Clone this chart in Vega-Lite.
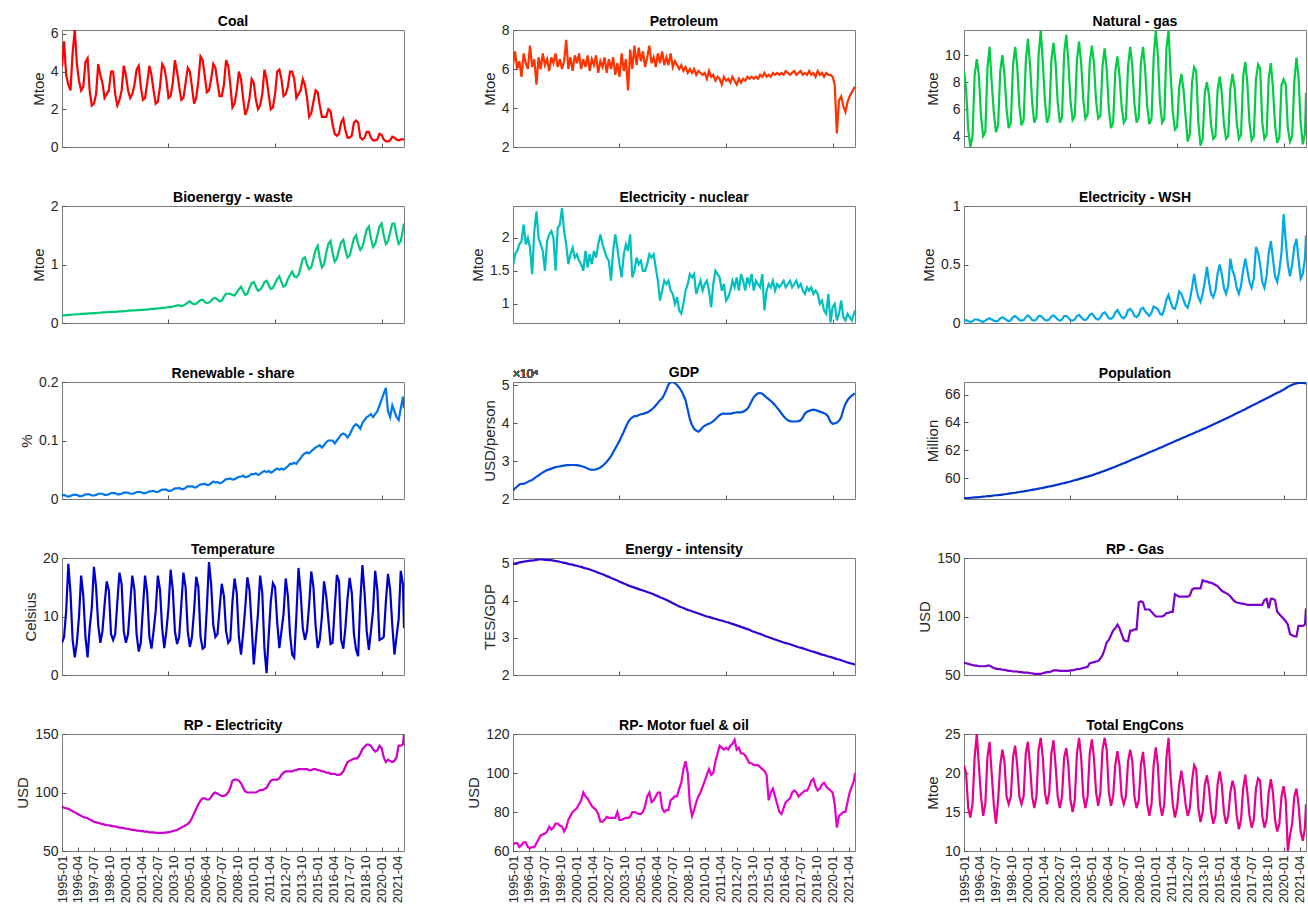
{
"$schema":"https://vega.github.io/schema/vega-lite/v6.json",
"background":"white",
"padding":{"left":15,"top":14,"right":0,"bottom":0},
"data":{"format":{"parse":{"d":"utc:'%Y-%m'"}},"values":[
{"d":"1995-01","co":4.3,"pe":6.2,"ng":8.8,"bi":0.13,"nu":1.57,"ws":0.02,"rs":0.006,"gd":2.22,"po":58.55,"te":5.5,"ei":5,"rg":60.5,"re":88,"rm":63.5,"tc":21},
{"d":"1995-03","co":5.6,"pe":6.9,"ng":7.5,"bi":0.13,"nu":1.75,"ws":0.025,"rs":0.007,"gd":2.28,"po":58.56,"te":6.5,"ei":5.01,"rg":60,"re":87,"rm":64,"tc":20},
{"d":"1995-05","co":3.8,"pe":6.0,"ng":4.5,"bi":0.135,"nu":1.8,"ws":0.015,"rs":0.005,"gd":2.33,"po":58.57,"te":11,"ei":5.02,"rg":59.5,"re":86.5,"rm":64,"tc":15.5},
{"d":"1995-07","co":3.3,"pe":6.4,"ng":3.2,"bi":0.14,"nu":1.9,"ws":0.01,"rs":0.004,"gd":2.38,"po":58.59,"te":19,"ei":5.04,"rg":59,"re":86,"rm":62,"tc":14.3},
{"d":"1995-09","co":3.0,"pe":5.6,"ng":4.0,"bi":0.14,"nu":1.95,"ws":0.015,"rs":0.005,"gd":2.4,"po":58.6,"te":14,"ei":5.05,"rg":58.5,"re":85,"rm":63,"tc":16},
{"d":"1995-11","co":5.0,"pe":6.8,"ng":8.5,"bi":0.145,"nu":2.2,"ws":0.03,"rs":0.007,"gd":2.4,"po":58.61,"te":6,"ei":5.06,"rg":58,"re":84,"rm":64.5,"tc":22},
{"d":"1996-01","co":6.2,"pe":6.3,"ng":9.7,"bi":0.145,"nu":1.9,"ws":0.03,"rs":0.007,"gd":2.42,"po":58.62,"te":3,"ei":5.07,"rg":58,"re":83,"rm":64.5,"tc":25},
{"d":"1996-03","co":4.4,"pe":6.0,"ng":8.5,"bi":0.15,"nu":2.0,"ws":0.025,"rs":0.007,"gd":2.45,"po":58.64,"te":5.5,"ei":5.08,"rg":57.5,"re":82,"rm":62,"tc":21},
{"d":"1996-05","co":3.5,"pe":7.2,"ng":5.5,"bi":0.15,"nu":1.85,"ws":0.015,"rs":0.005,"gd":2.48,"po":58.65,"te":10,"ei":5.09,"rg":57.5,"re":81,"rm":61.5,"tc":17},
{"d":"1996-07","co":3.0,"pe":6.1,"ng":4.0,"bi":0.155,"nu":1.45,"ws":0.01,"rs":0.005,"gd":2.5,"po":58.67,"te":17,"ei":5.09,"rg":57.5,"re":80,"rm":62,"tc":14.5},
{"d":"1996-09","co":3.2,"pe":6.5,"ng":4.3,"bi":0.155,"nu":2.1,"ws":0.02,"rs":0.006,"gd":2.54,"po":58.68,"te":13.5,"ei":5.1,"rg":57.5,"re":79,"rm":62,"tc":16},
{"d":"1996-11","co":4.5,"pe":5.2,"ng":9.0,"bi":0.16,"nu":2.4,"ws":0.035,"rs":0.008,"gd":2.59,"po":58.7,"te":6.5,"ei":5.11,"rg":58,"re":78.5,"rm":64,"tc":22},
{"d":"1997-01","co":4.7,"pe":6.6,"ng":10.6,"bi":0.16,"nu":2.0,"ws":0.04,"rs":0.008,"gd":2.62,"po":58.71,"te":3,"ei":5.12,"rg":58,"re":78,"rm":66,"tc":24},
{"d":"1997-03","co":3.0,"pe":6.0,"ng":8.0,"bi":0.165,"nu":1.9,"ws":0.03,"rs":0.008,"gd":2.66,"po":58.73,"te":8,"ei":5.12,"rg":57,"re":77,"rm":68,"tc":20},
{"d":"1997-05","co":2.2,"pe":6.8,"ng":5.8,"bi":0.165,"nu":1.8,"ws":0.02,"rs":0.006,"gd":2.7,"po":58.75,"te":11.5,"ei":5.12,"rg":56,"re":76,"rm":68.5,"tc":16},
{"d":"1997-07","co":2.3,"pe":6.2,"ng":4.3,"bi":0.17,"nu":1.5,"ws":0.015,"rs":0.006,"gd":2.73,"po":58.77,"te":18.5,"ei":5.11,"rg":55.5,"re":75,"rm":69,"tc":13.5},
{"d":"1997-09","co":2.8,"pe":6.5,"ng":4.8,"bi":0.17,"nu":1.95,"ws":0.02,"rs":0.007,"gd":2.76,"po":58.78,"te":15,"ei":5.11,"rg":55,"re":74.5,"rm":70,"tc":16.5},
{"d":"1997-11","co":4.4,"pe":5.9,"ng":8.8,"bi":0.175,"nu":2.05,"ws":0.04,"rs":0.009,"gd":2.78,"po":58.8,"te":8.5,"ei":5.1,"rg":55,"re":74,"rm":72.5,"tc":21},
{"d":"1998-01","co":3.8,"pe":6.6,"ng":10.0,"bi":0.175,"nu":2.1,"ws":0.05,"rs":0.009,"gd":2.8,"po":58.82,"te":5.5,"ei":5.1,"rg":54.5,"re":73.5,"rm":71,"tc":23},
{"d":"1998-03","co":3.4,"pe":6.3,"ng":8.6,"bi":0.18,"nu":2.0,"ws":0.04,"rs":0.009,"gd":2.82,"po":58.84,"te":7.5,"ei":5.09,"rg":54.5,"re":73,"rm":72,"tc":21.5},
{"d":"1998-05","co":2.6,"pe":6.8,"ng":6.0,"bi":0.18,"nu":1.5,"ws":0.025,"rs":0.007,"gd":2.84,"po":58.86,"te":12,"ei":5.08,"rg":54,"re":72.5,"rm":74,"tc":17},
{"d":"1998-07","co":2.8,"pe":6.1,"ng":4.6,"bi":0.185,"nu":2.15,"ws":0.015,"rs":0.007,"gd":2.85,"po":58.89,"te":16,"ei":5.07,"rg":53.5,"re":72,"rm":74,"tc":16},
{"d":"1998-09","co":3.0,"pe":6.5,"ng":5.0,"bi":0.185,"nu":2.2,"ws":0.025,"rs":0.008,"gd":2.86,"po":58.91,"te":14.5,"ei":5.06,"rg":53.5,"re":72,"rm":73,"tc":17},
{"d":"1998-11","co":4.0,"pe":6.0,"ng":9.2,"bi":0.19,"nu":2.45,"ws":0.05,"rs":0.01,"gd":2.87,"po":58.93,"te":7,"ei":5.04,"rg":53,"re":71.5,"rm":72.5,"tc":22},
{"d":"1999-01","co":4.0,"pe":6.4,"ng":10.6,"bi":0.19,"nu":2.1,"ws":0.06,"rs":0.01,"gd":2.88,"po":58.95,"te":6,"ei":5.03,"rg":53,"re":71,"rm":70,"tc":23.5},
{"d":"1999-03","co":2.8,"pe":7.5,"ng":9.2,"bi":0.19,"nu":1.9,"ws":0.045,"rs":0.01,"gd":2.89,"po":58.98,"te":7,"ei":5.02,"rg":53,"re":71,"rm":72,"tc":21},
{"d":"1999-05","co":2.2,"pe":6.0,"ng":6.2,"bi":0.195,"nu":1.6,"ws":0.025,"rs":0.008,"gd":2.89,"po":59.0,"te":12.5,"ei":5.0,"rg":52.5,"re":70.5,"rm":76,"tc":17},
{"d":"1999-07","co":2.5,"pe":6.6,"ng":4.8,"bi":0.2,"nu":1.75,"ws":0.02,"rs":0.008,"gd":2.895,"po":59.03,"te":17.5,"ei":4.99,"rg":52.5,"re":70,"rm":78,"tc":16},
{"d":"1999-09","co":3.0,"pe":5.9,"ng":5.2,"bi":0.2,"nu":1.85,"ws":0.025,"rs":0.009,"gd":2.895,"po":59.05,"te":15.5,"ei":4.98,"rg":52,"re":70,"rm":80,"tc":17},
{"d":"1999-11","co":4.3,"pe":6.7,"ng":9.5,"bi":0.2,"nu":1.7,"ws":0.05,"rs":0.011,"gd":2.89,"po":59.08,"te":7.5,"ei":4.96,"rg":52,"re":69.5,"rm":81,"tc":22.5},
{"d":"2000-01","co":3.8,"pe":6.3,"ng":11.2,"bi":0.205,"nu":1.75,"ws":0.065,"rs":0.011,"gd":2.89,"po":59.1,"te":5.5,"ei":4.95,"rg":52,"re":69,"rm":82,"tc":24},
{"d":"2000-03","co":3.0,"pe":6.8,"ng":9.3,"bi":0.21,"nu":1.65,"ws":0.05,"rs":0.011,"gd":2.88,"po":59.13,"te":7,"ei":4.93,"rg":51.5,"re":69,"rm":84,"tc":21},
{"d":"2000-05","co":2.6,"pe":6.0,"ng":6.5,"bi":0.21,"nu":1.6,"ws":0.025,"rs":0.009,"gd":2.87,"po":59.16,"te":12,"ei":4.92,"rg":51.5,"re":68.5,"rm":86,"tc":17},
{"d":"2000-07","co":2.8,"pe":6.5,"ng":5.0,"bi":0.215,"nu":1.5,"ws":0.02,"rs":0.009,"gd":2.85,"po":59.19,"te":17,"ei":4.9,"rg":51,"re":68,"rm":90,"tc":15.5},
{"d":"2000-09","co":3.3,"pe":6.1,"ng":5.4,"bi":0.215,"nu":1.8,"ws":0.03,"rs":0.01,"gd":2.83,"po":59.21,"te":14.5,"ei":4.88,"rg":51,"re":68,"rm":88,"tc":17},
{"d":"2000-11","co":4.1,"pe":6.7,"ng":10.0,"bi":0.22,"nu":1.55,"ws":0.06,"rs":0.012,"gd":2.8,"po":59.24,"te":7,"ei":4.87,"rg":51,"re":67.5,"rm":87,"tc":23},
{"d":"2001-01","co":4.3,"pe":5.9,"ng":11.8,"bi":0.22,"nu":1.75,"ws":0.06,"rs":0.012,"gd":2.78,"po":59.27,"te":4,"ei":4.85,"rg":51,"re":67.5,"rm":85,"tc":24.5},
{"d":"2001-03","co":3.2,"pe":6.5,"ng":9.5,"bi":0.225,"nu":1.6,"ws":0.045,"rs":0.012,"gd":2.77,"po":59.3,"te":5.5,"ei":4.83,"rg":51.5,"re":67,"rm":83,"tc":22},
{"d":"2001-05","co":2.5,"pe":6.2,"ng":6.6,"bi":0.225,"nu":1.8,"ws":0.025,"rs":0.01,"gd":2.77,"po":59.33,"te":11.5,"ei":4.81,"rg":52,"re":67,"rm":82,"tc":17.5},
{"d":"2001-07","co":2.6,"pe":6.7,"ng":5.0,"bi":0.23,"nu":1.7,"ws":0.02,"rs":0.01,"gd":2.78,"po":59.37,"te":17,"ei":4.79,"rg":52.5,"re":66.5,"rm":81,"tc":16},
{"d":"2001-09","co":3.4,"pe":5.8,"ng":5.5,"bi":0.23,"nu":1.9,"ws":0.03,"rs":0.011,"gd":2.8,"po":59.4,"te":14,"ei":4.76,"rg":52.5,"re":66.5,"rm":79,"tc":17.5},
{"d":"2001-11","co":4.3,"pe":6.4,"ng":9.6,"bi":0.235,"nu":2.05,"ws":0.055,"rs":0.013,"gd":2.83,"po":59.43,"te":6.5,"ei":4.74,"rg":53,"re":66,"rm":75,"tc":22.5},
{"d":"2002-01","co":3.8,"pe":6.1,"ng":10.9,"bi":0.24,"nu":1.9,"ws":0.065,"rs":0.013,"gd":2.87,"po":59.46,"te":4.5,"ei":4.72,"rg":54,"re":66,"rm":75,"tc":24.2},
{"d":"2002-03","co":3.0,"pe":6.6,"ng":9.4,"bi":0.24,"nu":1.8,"ws":0.05,"rs":0.014,"gd":2.92,"po":59.5,"te":7.5,"ei":4.7,"rg":54,"re":66,"rm":76,"tc":21},
{"d":"2002-05","co":2.3,"pe":5.8,"ng":6.5,"bi":0.245,"nu":1.7,"ws":0.03,"rs":0.012,"gd":2.98,"po":59.53,"te":11,"ei":4.67,"rg":54,"re":65.5,"rm":77.5,"tc":17},
{"d":"2002-07","co":2.4,"pe":6.5,"ng":5.0,"bi":0.25,"nu":1.65,"ws":0.02,"rs":0.012,"gd":3.05,"po":59.57,"te":17,"ei":4.65,"rg":53.5,"re":65.5,"rm":77,"tc":15.5},
{"d":"2002-09","co":3.2,"pe":6.0,"ng":5.4,"bi":0.25,"nu":1.35,"ws":0.03,"rs":0.014,"gd":3.13,"po":59.61,"te":14.5,"ei":4.62,"rg":53.5,"re":65.5,"rm":77,"tc":17},
{"d":"2002-11","co":4.4,"pe":6.6,"ng":10.1,"bi":0.26,"nu":1.8,"ws":0.06,"rs":0.016,"gd":3.23,"po":59.64,"te":8,"ei":4.6,"rg":53.5,"re":65.5,"rm":77,"tc":22},
{"d":"2003-01","co":4.2,"pe":5.7,"ng":11.5,"bi":0.26,"nu":2.05,"ws":0.06,"rs":0.016,"gd":3.33,"po":59.68,"te":4.6,"ei":4.57,"rg":53.5,"re":65.5,"rm":77,"tc":23.2},
{"d":"2003-03","co":3.6,"pe":6.3,"ng":9.5,"bi":0.265,"nu":1.85,"ws":0.045,"rs":0.016,"gd":3.43,"po":59.72,"te":7.5,"ei":4.55,"rg":53.5,"re":66,"rm":80,"tc":21},
{"d":"2003-05","co":2.6,"pe":5.6,"ng":6.6,"bi":0.27,"nu":1.6,"ws":0.025,"rs":0.014,"gd":3.53,"po":59.76,"te":11.5,"ei":4.52,"rg":54,"re":66,"rm":76,"tc":16.5},
{"d":"2003-07","co":2.7,"pe":6.8,"ng":5.2,"bi":0.27,"nu":1.4,"ws":0.02,"rs":0.014,"gd":3.65,"po":59.81,"te":18,"ei":4.5,"rg":54,"re":66.5,"rm":76,"tc":15},
{"d":"2003-09","co":3.4,"pe":5.9,"ng":5.5,"bi":0.28,"nu":1.75,"ws":0.03,"rs":0.016,"gd":3.77,"po":59.85,"te":14.5,"ei":4.47,"rg":54.5,"re":67,"rm":76.5,"tc":16.5},
{"d":"2003-11","co":4.6,"pe":6.5,"ng":9.6,"bi":0.29,"nu":1.9,"ws":0.06,"rs":0.018,"gd":3.9,"po":59.89,"te":7.5,"ei":4.45,"rg":55,"re":67.5,"rm":77,"tc":22.5},
{"d":"2004-01","co":4.0,"pe":4.9,"ng":11.0,"bi":0.3,"nu":1.8,"ws":0.07,"rs":0.018,"gd":4.02,"po":59.93,"te":5.3,"ei":4.42,"rg":55,"re":68,"rm":77,"tc":24.5},
{"d":"2004-03","co":3.2,"pe":7.0,"ng":9.4,"bi":0.3,"nu":2.05,"ws":0.05,"rs":0.019,"gd":4.1,"po":59.98,"te":6.5,"ei":4.4,"rg":55.5,"re":69,"rm":77.5,"tc":22},
{"d":"2004-05","co":2.5,"pe":6.0,"ng":6.7,"bi":0.29,"nu":1.4,"ws":0.03,"rs":0.017,"gd":4.15,"po":60.02,"te":12,"ei":4.38,"rg":56,"re":70,"rm":80,"tc":17},
{"d":"2004-07","co":2.6,"pe":7.2,"ng":5.3,"bi":0.3,"nu":1.5,"ws":0.025,"rs":0.017,"gd":4.18,"po":60.07,"te":17.5,"ei":4.36,"rg":56.5,"re":71,"rm":80,"tc":15.5},
{"d":"2004-09","co":3.4,"pe":6.2,"ng":5.6,"bi":0.32,"nu":1.7,"ws":0.04,"rs":0.019,"gd":4.18,"po":60.11,"te":15,"ei":4.34,"rg":57,"re":72,"rm":79.5,"tc":17},
{"d":"2004-11","co":4.2,"pe":7.1,"ng":9.4,"bi":0.35,"nu":1.6,"ws":0.07,"rs":0.022,"gd":4.21,"po":60.16,"te":7.5,"ei":4.32,"rg":60,"re":73,"rm":79,"tc":22.5},
{"d":"2005-01","co":4.0,"pe":6.4,"ng":10.7,"bi":0.37,"nu":1.65,"ws":0.08,"rs":0.021,"gd":4.23,"po":60.2,"te":4.8,"ei":4.3,"rg":60.5,"re":75,"rm":79,"tc":24.3},
{"d":"2005-03","co":3.2,"pe":6.9,"ng":9.4,"bi":0.34,"nu":1.5,"ws":0.06,"rs":0.022,"gd":4.24,"po":60.25,"te":6.5,"ei":4.28,"rg":61,"re":78,"rm":80,"tc":22},
{"d":"2005-05","co":2.3,"pe":6.1,"ng":6.6,"bi":0.32,"nu":1.5,"ws":0.035,"rs":0.02,"gd":4.26,"po":60.31,"te":11,"ei":4.26,"rg":61.5,"re":82,"rm":83,"tc":17.5},
{"d":"2005-07","co":2.6,"pe":6.6,"ng":5.3,"bi":0.33,"nu":1.6,"ws":0.03,"rs":0.02,"gd":4.28,"po":60.36,"te":16.8,"ei":4.24,"rg":62,"re":86,"rm":88,"tc":15.8},
{"d":"2005-09","co":3.5,"pe":7.2,"ng":5.5,"bi":0.36,"nu":1.75,"ws":0.045,"rs":0.023,"gd":4.31,"po":60.41,"te":15,"ei":4.22,"rg":64,"re":90,"rm":90,"tc":17.5},
{"d":"2005-11","co":4.8,"pe":6.3,"ng":9.2,"bi":0.39,"nu":1.7,"ws":0.08,"rs":0.025,"gd":4.35,"po":60.47,"te":6.5,"ei":4.2,"rg":67,"re":93,"rm":85,"tc":23},
{"d":"2006-01","co":4.6,"pe":6.6,"ng":10.5,"bi":0.4,"nu":1.75,"ws":0.09,"rs":0.025,"gd":4.4,"po":60.52,"te":4.5,"ei":4.18,"rg":72,"re":95,"rm":86,"tc":24.5},
{"d":"2006-03","co":3.8,"pe":6.1,"ng":9.0,"bi":0.36,"nu":1.55,"ws":0.07,"rs":0.026,"gd":4.46,"po":60.58,"te":4.8,"ei":4.15,"rg":78,"re":95,"rm":88,"tc":23},
{"d":"2006-05","co":2.9,"pe":6.8,"ng":6.0,"bi":0.34,"nu":1.35,"ws":0.04,"rs":0.024,"gd":4.53,"po":60.64,"te":11.5,"ei":4.13,"rg":80,"re":94,"rm":90,"tc":17.5},
{"d":"2006-07","co":3.0,"pe":6.3,"ng":4.6,"bi":0.35,"nu":1.05,"ws":0.035,"rs":0.024,"gd":4.6,"po":60.7,"te":19.3,"ei":4.1,"rg":84,"re":94,"rm":90,"tc":15.8},
{"d":"2006-09","co":3.6,"pe":6.9,"ng":5.0,"bi":0.38,"nu":1.2,"ws":0.05,"rs":0.027,"gd":4.65,"po":60.76,"te":15.5,"ei":4.08,"rg":88,"re":96,"rm":82,"tc":17},
{"d":"2006-11","co":4.4,"pe":6.2,"ng":8.8,"bi":0.42,"nu":1.35,"ws":0.09,"rs":0.03,"gd":4.75,"po":60.82,"te":8.5,"ei":4.05,"rg":90,"re":99,"rm":80,"tc":21},
{"d":"2007-01","co":4.2,"pe":6.6,"ng":9.9,"bi":0.43,"nu":1.3,"ws":0.11,"rs":0.028,"gd":4.88,"po":60.88,"te":6.5,"ei":4.03,"rg":93,"re":100,"rm":81,"tc":22.8},
{"d":"2007-03","co":3.4,"pe":6.2,"ng":8.5,"bi":0.4,"nu":1.35,"ws":0.08,"rs":0.029,"gd":5.02,"po":60.94,"te":7,"ei":4.0,"rg":90,"re":99,"rm":81,"tc":21},
{"d":"2007-05","co":2.7,"pe":6.8,"ng":6.2,"bi":0.37,"nu":1.2,"ws":0.05,"rs":0.027,"gd":5.07,"po":61.01,"te":11.5,"ei":3.97,"rg":85,"re":98,"rm":86,"tc":17},
{"d":"2007-07","co":2.7,"pe":6.1,"ng":5.0,"bi":0.38,"nu":1.15,"ws":0.04,"rs":0.028,"gd":5.08,"po":61.07,"te":15.6,"ei":3.94,"rg":80,"re":97,"rm":87,"tc":16},
{"d":"2007-09","co":3.3,"pe":6.4,"ng":5.3,"bi":0.45,"nu":1.0,"ws":0.06,"rs":0.031,"gd":5.05,"po":61.13,"te":13.5,"ei":3.91,"rg":79,"re":97,"rm":88,"tc":17},
{"d":"2007-11","co":4.6,"pe":6.2,"ng":9.2,"bi":0.5,"nu":1.1,"ws":0.11,"rs":0.034,"gd":5.0,"po":61.2,"te":7.5,"ei":3.88,"rg":79,"re":98,"rm":88,"tc":21.5},
{"d":"2008-01","co":4.3,"pe":6.0,"ng":10.6,"bi":0.5,"nu":0.9,"ws":0.12,"rs":0.034,"gd":4.93,"po":61.26,"te":5.5,"ei":3.85,"rg":88,"re":100,"rm":92,"tc":23},
{"d":"2008-03","co":3.3,"pe":6.2,"ng":9.2,"bi":0.5,"nu":0.85,"ws":0.1,"rs":0.035,"gd":4.85,"po":61.33,"te":6,"ei":3.83,"rg":88,"re":104,"rm":95,"tc":21.5},
{"d":"2008-05","co":2.1,"pe":5.9,"ng":6.4,"bi":0.48,"nu":1.0,"ws":0.06,"rs":0.033,"gd":4.73,"po":61.39,"te":12.5,"ei":3.81,"rg":89,"re":110,"rm":102,"tc":17},
{"d":"2008-07","co":2.3,"pe":6.1,"ng":5.0,"bi":0.47,"nu":1.2,"ws":0.05,"rs":0.034,"gd":4.6,"po":61.46,"te":16.5,"ei":3.78,"rg":89,"re":111,"rm":106,"tc":15.5},
{"d":"2008-09","co":3.0,"pe":5.8,"ng":5.4,"bi":0.52,"nu":1.3,"ws":0.07,"rs":0.036,"gd":4.35,"po":61.52,"te":14,"ei":3.76,"rg":112,"re":111,"rm":100,"tc":16.5},
{"d":"2008-11","co":4.0,"pe":6.0,"ng":9.4,"bi":0.58,"nu":1.45,"ws":0.12,"rs":0.038,"gd":4.1,"po":61.59,"te":6.5,"ei":3.74,"rg":113,"re":110,"rm":84,"tc":21},
{"d":"2009-01","co":3.6,"pe":5.8,"ng":10.6,"bi":0.62,"nu":1.4,"ws":0.13,"rs":0.038,"gd":3.95,"po":61.65,"te":3.5,"ei":3.72,"rg":112,"re":108,"rm":78,"tc":22.7},
{"d":"2009-03","co":2.6,"pe":6.0,"ng":9.0,"bi":0.55,"nu":1.45,"ws":0.1,"rs":0.04,"gd":3.85,"po":61.72,"te":7,"ei":3.7,"rg":106,"re":104,"rm":81,"tc":20},
{"d":"2009-05","co":1.7,"pe":5.7,"ng":6.2,"bi":0.48,"nu":1.15,"ws":0.08,"rs":0.037,"gd":3.8,"po":61.78,"te":11.5,"ei":3.68,"rg":106,"re":101,"rm":85,"tc":16},
{"d":"2009-07","co":2.0,"pe":5.9,"ng":4.9,"bi":0.5,"nu":1.25,"ws":0.06,"rs":0.038,"gd":3.77,"po":61.85,"te":16.7,"ei":3.66,"rg":106,"re":100,"rm":88,"tc":14.5},
{"d":"2009-09","co":2.6,"pe":5.8,"ng":5.3,"bi":0.6,"nu":1.35,"ws":0.09,"rs":0.04,"gd":3.82,"po":61.91,"te":14.5,"ei":3.64,"rg":104,"re":100,"rm":90,"tc":16},
{"d":"2009-11","co":3.6,"pe":5.7,"ng":9.8,"bi":0.68,"nu":1.2,"ws":0.14,"rs":0.043,"gd":3.89,"po":61.98,"te":8.5,"ei":3.62,"rg":102,"re":100,"rm":93,"tc":21},
{"d":"2010-01","co":3.4,"pe":5.8,"ng":11.8,"bi":0.7,"nu":1.3,"ws":0.13,"rs":0.042,"gd":3.93,"po":62.04,"te":1.8,"ei":3.6,"rg":100,"re":100,"rm":96,"tc":23.3},
{"d":"2010-03","co":2.5,"pe":5.5,"ng":10.0,"bi":0.62,"nu":1.35,"ws":0.12,"rs":0.044,"gd":3.96,"po":62.11,"te":6,"ei":3.58,"rg":100,"re":100,"rm":99,"tc":21},
{"d":"2010-05","co":2.0,"pe":5.9,"ng":6.5,"bi":0.55,"nu":1.2,"ws":0.08,"rs":0.041,"gd":3.98,"po":62.17,"te":10.5,"ei":3.57,"rg":100,"re":101,"rm":102,"tc":16},
{"d":"2010-07","co":2.2,"pe":5.6,"ng":5.0,"bi":0.57,"nu":0.95,"ws":0.07,"rs":0.043,"gd":4.01,"po":62.24,"te":17,"ei":3.55,"rg":100,"re":102,"rm":99,"tc":14.5},
{"d":"2010-09","co":2.8,"pe":5.7,"ng":5.3,"bi":0.62,"nu":1.3,"ws":0.12,"rs":0.046,"gd":4.05,"po":62.31,"te":14,"ei":3.53,"rg":101,"re":102,"rm":100,"tc":16},
{"d":"2010-11","co":4.1,"pe":5.4,"ng":10.5,"bi":0.7,"nu":1.5,"ws":0.2,"rs":0.048,"gd":4.1,"po":62.37,"te":4.5,"ei":3.52,"rg":103,"re":103,"rm":106,"tc":22},
{"d":"2011-01","co":3.6,"pe":5.6,"ng":11.8,"bi":0.72,"nu":1.45,"ws":0.24,"rs":0.046,"gd":4.16,"po":62.44,"te":0.3,"ei":3.5,"rg":103,"re":104,"rm":110,"tc":24.5},
{"d":"2011-03","co":2.8,"pe":5.5,"ng":8.6,"bi":0.65,"nu":1.4,"ws":0.18,"rs":0.048,"gd":4.21,"po":62.51,"te":6.5,"ei":3.48,"rg":104,"re":107,"rm":114,"tc":19.5},
{"d":"2011-05","co":2.0,"pe":5.2,"ng":5.8,"bi":0.58,"nu":1.2,"ws":0.13,"rs":0.045,"gd":4.24,"po":62.57,"te":12.5,"ei":3.47,"rg":104,"re":110,"rm":113,"tc":16},
{"d":"2011-07","co":2.1,"pe":5.6,"ng":4.5,"bi":0.6,"nu":1.3,"ws":0.12,"rs":0.047,"gd":4.25,"po":62.64,"te":15.7,"ei":3.45,"rg":119,"re":111,"rm":112,"tc":14.3},
{"d":"2011-09","co":2.8,"pe":5.4,"ng":4.7,"bi":0.68,"nu":1.05,"ws":0.18,"rs":0.05,"gd":4.24,"po":62.71,"te":15,"ei":3.43,"rg":118,"re":111,"rm":113,"tc":15.5},
{"d":"2011-11","co":4.0,"pe":5.5,"ng":7.6,"bi":0.75,"nu":1.1,"ws":0.27,"rs":0.052,"gd":4.25,"po":62.77,"te":9,"ei":3.42,"rg":117,"re":111,"rm":112,"tc":18.5},
{"d":"2012-01","co":4.1,"pe":5.3,"ng":8.6,"bi":0.8,"nu":1.2,"ws":0.25,"rs":0.05,"gd":4.24,"po":62.84,"te":4.6,"ei":3.4,"rg":117,"re":112,"rm":114,"tc":20.3},
{"d":"2012-03","co":3.6,"pe":5.6,"ng":7.5,"bi":0.7,"nu":1.35,"ws":0.2,"rs":0.052,"gd":4.26,"po":62.91,"te":7.5,"ei":3.38,"rg":117,"re":115,"rm":115,"tc":18.5},
{"d":"2012-05","co":2.7,"pe":5.4,"ng":5.5,"bi":0.62,"nu":1.25,"ws":0.15,"rs":0.05,"gd":4.27,"po":62.97,"te":10.5,"ei":3.36,"rg":117,"re":117,"rm":117,"tc":16},
{"d":"2012-07","co":2.8,"pe":5.2,"ng":3.6,"bi":0.65,"nu":1.4,"ws":0.13,"rs":0.053,"gd":4.28,"po":63.04,"te":16.5,"ei":3.34,"rg":117,"re":118,"rm":112,"tc":14.5},
{"d":"2012-09","co":3.2,"pe":5.5,"ng":4.2,"bi":0.75,"nu":1.2,"ws":0.2,"rs":0.056,"gd":4.28,"po":63.11,"te":13.5,"ei":3.32,"rg":118,"re":118,"rm":113,"tc":15.5},
{"d":"2012-11","co":4.0,"pe":5.3,"ng":8.0,"bi":0.82,"nu":1.45,"ws":0.3,"rs":0.06,"gd":4.28,"po":63.17,"te":7,"ei":3.3,"rg":123,"re":118,"rm":110,"tc":19},
{"d":"2013-01","co":4.0,"pe":5.5,"ng":9.1,"bi":0.88,"nu":1.35,"ws":0.42,"rs":0.06,"gd":4.3,"po":63.24,"te":3.5,"ei":3.28,"rg":124,"re":118,"rm":110,"tc":21},
{"d":"2013-03","co":3.6,"pe":5.4,"ng":8.8,"bi":0.8,"nu":1.2,"ws":0.3,"rs":0.062,"gd":4.33,"po":63.31,"te":3,"ei":3.26,"rg":124,"re":119,"rm":109,"tc":20.5},
{"d":"2013-05","co":2.6,"pe":5.6,"ng":5.0,"bi":0.78,"nu":1.4,"ws":0.22,"rs":0.06,"gd":4.37,"po":63.37,"te":10,"ei":3.24,"rg":124,"re":119,"rm":107,"tc":15.5},
{"d":"2013-07","co":2.8,"pe":5.5,"ng":3.3,"bi":0.82,"nu":1.3,"ws":0.18,"rs":0.065,"gd":4.46,"po":63.44,"te":18.3,"ei":3.22,"rg":124,"re":120,"rm":105,"tc":13.7},
{"d":"2013-09","co":3.0,"pe":5.6,"ng":3.8,"bi":0.95,"nu":1.45,"ws":0.25,"rs":0.07,"gd":4.58,"po":63.51,"te":14,"ei":3.19,"rg":131,"re":120,"rm":105,"tc":15},
{"d":"2013-11","co":3.6,"pe":5.5,"ng":7.2,"bi":1.1,"nu":1.2,"ws":0.35,"rs":0.075,"gd":4.68,"po":63.57,"te":8,"ei":3.17,"rg":130,"re":120,"rm":104,"tc":18.5},
{"d":"2014-01","co":3.3,"pe":5.6,"ng":8.0,"bi":1.12,"nu":1.35,"ws":0.48,"rs":0.078,"gd":4.74,"po":63.64,"te":6,"ei":3.15,"rg":130,"re":120,"rm":104,"tc":19.7},
{"d":"2014-03","co":2.6,"pe":5.5,"ng":7.0,"bi":1.0,"nu":1.3,"ws":0.35,"rs":0.08,"gd":4.78,"po":63.71,"te":7.5,"ei":3.13,"rg":129,"re":120,"rm":104,"tc":18},
{"d":"2014-05","co":1.6,"pe":5.7,"ng":4.8,"bi":0.92,"nu":1.25,"ws":0.25,"rs":0.078,"gd":4.79,"po":63.78,"te":12,"ei":3.11,"rg":129,"re":119,"rm":103,"tc":15},
{"d":"2014-07","co":1.8,"pe":5.6,"ng":3.8,"bi":0.95,"nu":1.45,"ws":0.22,"rs":0.082,"gd":4.77,"po":63.85,"te":17.7,"ei":3.09,"rg":128,"re":119,"rm":102,"tc":13.5},
{"d":"2014-09","co":2.4,"pe":5.8,"ng":4.0,"bi":1.1,"nu":0.9,"ws":0.28,"rs":0.085,"gd":4.72,"po":63.92,"te":15,"ei":3.06,"rg":127,"re":120,"rm":101,"tc":14.5},
{"d":"2014-11","co":3.0,"pe":5.6,"ng":7.4,"bi":1.25,"nu":1.2,"ws":0.42,"rs":0.088,"gd":4.67,"po":63.99,"te":8.5,"ei":3.04,"rg":126,"re":120,"rm":99,"tc":18.5},
{"d":"2015-01","co":2.9,"pe":5.7,"ng":8.4,"bi":1.32,"nu":1.3,"ws":0.5,"rs":0.09,"gd":4.63,"po":64.06,"te":4.6,"ei":3.02,"rg":124,"re":119,"rm":86,"tc":20.2},
{"d":"2015-03","co":2.2,"pe":5.6,"ng":7.2,"bi":1.1,"nu":1.25,"ws":0.42,"rs":0.092,"gd":4.58,"po":64.13,"te":6,"ei":3.0,"rg":122,"re":119,"rm":90,"tc":18.5},
{"d":"2015-05","co":1.6,"pe":5.8,"ng":4.9,"bi":0.95,"nu":1.35,"ws":0.3,"rs":0.088,"gd":4.53,"po":64.21,"te":10,"ei":2.98,"rg":121,"re":118,"rm":92,"tc":15},
{"d":"2015-07","co":1.6,"pe":5.7,"ng":3.8,"bi":1.0,"nu":1.2,"ws":0.25,"rs":0.092,"gd":4.47,"po":64.28,"te":16,"ei":2.96,"rg":120,"re":118,"rm":88,"tc":13.5},
{"d":"2015-09","co":1.6,"pe":5.8,"ng":4.0,"bi":1.2,"nu":1.3,"ws":0.32,"rs":0.097,"gd":4.4,"po":64.35,"te":13.5,"ei":2.94,"rg":119,"re":117,"rm":84,"tc":14.5},
{"d":"2015-11","co":2.0,"pe":5.7,"ng":7.5,"bi":1.35,"nu":1.25,"ws":0.55,"rs":0.1,"gd":4.33,"po":64.43,"te":9.5,"ei":2.92,"rg":117,"re":117,"rm":80,"tc":17.5},
{"d":"2016-01","co":1.9,"pe":5.8,"ng":8.6,"bi":1.4,"nu":1.3,"ws":0.45,"rs":0.1,"gd":4.25,"po":64.5,"te":5.3,"ei":2.9,"rg":115,"re":116,"rm":79,"tc":19},
{"d":"2016-03","co":1.2,"pe":5.7,"ng":7.6,"bi":1.2,"nu":1.35,"ws":0.4,"rs":0.1,"gd":4.18,"po":64.58,"te":5.5,"ei":2.88,"rg":113,"re":116,"rm":82,"tc":18},
{"d":"2016-05","co":0.7,"pe":5.9,"ng":5.0,"bi":1.05,"nu":1.25,"ws":0.3,"rs":0.095,"gd":4.12,"po":64.65,"te":11.5,"ei":2.86,"rg":112,"re":116,"rm":85,"tc":14.5},
{"d":"2016-07","co":0.6,"pe":5.8,"ng":3.8,"bi":1.1,"nu":1.3,"ws":0.25,"rs":0.1,"gd":4.07,"po":64.73,"te":17.1,"ei":2.85,"rg":111.5,"re":115,"rm":86,"tc":12.8},
{"d":"2016-09","co":0.7,"pe":5.7,"ng":4.1,"bi":1.25,"nu":1.35,"ws":0.32,"rs":0.105,"gd":4.05,"po":64.8,"te":16,"ei":2.83,"rg":111,"re":115,"rm":87,"tc":14},
{"d":"2016-11","co":1.3,"pe":5.8,"ng":8.4,"bi":1.38,"nu":1.25,"ws":0.45,"rs":0.11,"gd":4.04,"po":64.88,"te":6,"ei":2.81,"rg":111,"re":116,"rm":90,"tc":18},
{"d":"2017-01","co":1.5,"pe":5.9,"ng":9.5,"bi":1.42,"nu":1.3,"ws":0.55,"rs":0.112,"gd":4.04,"po":64.95,"te":4.5,"ei":2.79,"rg":110.5,"re":118,"rm":91,"tc":19.8},
{"d":"2017-03","co":0.9,"pe":5.7,"ng":7.9,"bi":1.25,"nu":1.35,"ws":0.45,"rs":0.11,"gd":4.04,"po":65.03,"te":8,"ei":2.77,"rg":110,"re":122,"rm":90,"tc":17.5},
{"d":"2017-05","co":0.5,"pe":5.8,"ng":5.0,"bi":1.12,"nu":1.25,"ws":0.35,"rs":0.105,"gd":4.05,"po":65.11,"te":13,"ei":2.75,"rg":110,"re":126,"rm":88,"tc":14.5},
{"d":"2017-07","co":0.5,"pe":5.9,"ng":3.7,"bi":1.15,"nu":1.3,"ws":0.3,"rs":0.11,"gd":4.07,"po":65.19,"te":16.6,"ei":2.74,"rg":110,"re":127,"rm":89,"tc":13},
{"d":"2017-09","co":0.6,"pe":5.7,"ng":4.0,"bi":1.3,"nu":1.2,"ws":0.38,"rs":0.118,"gd":4.15,"po":65.26,"te":14,"ei":2.72,"rg":110,"re":128,"rm":90,"tc":14},
{"d":"2017-11","co":1.3,"pe":5.8,"ng":8.2,"bi":1.45,"nu":1.15,"ws":0.65,"rs":0.125,"gd":4.25,"po":65.34,"te":7,"ei":2.7,"rg":110,"re":129,"rm":91,"tc":18},
{"d":"2018-01","co":1.4,"pe":5.7,"ng":9.3,"bi":1.5,"nu":1.25,"ws":0.6,"rs":0.128,"gd":4.3,"po":65.42,"te":4.3,"ei":2.68,"rg":110,"re":129,"rm":91,"tc":19.3},
{"d":"2018-03","co":1.3,"pe":5.9,"ng":9.0,"bi":1.35,"nu":1.2,"ws":0.5,"rs":0.125,"gd":4.32,"po":65.5,"te":3.2,"ei":2.66,"rg":110,"re":130,"rm":93,"tc":19},
{"d":"2018-05","co":0.5,"pe":5.7,"ng":5.0,"bi":1.25,"nu":1.25,"ws":0.35,"rs":0.12,"gd":4.34,"po":65.57,"te":12.5,"ei":2.64,"rg":110,"re":133,"rm":96,"tc":14.5},
{"d":"2018-07","co":0.4,"pe":5.8,"ng":3.8,"bi":1.3,"nu":1.15,"ws":0.3,"rs":0.13,"gd":4.35,"po":65.65,"te":18.8,"ei":2.63,"rg":114,"re":137,"rm":97,"tc":13},
{"d":"2018-09","co":0.5,"pe":5.6,"ng":4.1,"bi":1.45,"nu":1.2,"ws":0.4,"rs":0.135,"gd":4.34,"po":65.73,"te":14,"ei":2.61,"rg":115,"re":139,"rm":93,"tc":14},
{"d":"2018-11","co":0.8,"pe":5.9,"ng":8.3,"bi":1.6,"nu":1.15,"ws":0.6,"rs":0.14,"gd":4.32,"po":65.8,"te":7.5,"ei":2.59,"rg":107,"re":141,"rm":91,"tc":17.5},
{"d":"2019-01","co":0.8,"pe":5.7,"ng":9.4,"bi":1.65,"nu":1.0,"ws":0.7,"rs":0.142,"gd":4.3,"po":65.88,"te":4.3,"ei":2.57,"rg":115,"re":141,"rm":92,"tc":19.2},
{"d":"2019-03","co":0.5,"pe":5.8,"ng":7.6,"bi":1.45,"nu":1.05,"ws":0.55,"rs":0.145,"gd":4.28,"po":65.96,"te":7.5,"ei":2.55,"rg":115,"re":140,"rm":94,"tc":17.5},
{"d":"2019-05","co":0.35,"pe":5.6,"ng":4.8,"bi":1.3,"nu":0.9,"ws":0.4,"rs":0.14,"gd":4.26,"po":66.04,"te":11,"ei":2.54,"rg":114,"re":137,"rm":95,"tc":14},
{"d":"2019-07","co":0.35,"pe":5.8,"ng":3.5,"bi":1.35,"nu":0.85,"ws":0.35,"rs":0.145,"gd":4.23,"po":66.12,"te":17.8,"ei":2.52,"rg":104,"re":135,"rm":93,"tc":12.5},
{"d":"2019-09","co":0.4,"pe":5.7,"ng":3.9,"bi":1.5,"nu":1.15,"ws":0.45,"rs":0.15,"gd":4.16,"po":66.19,"te":14.5,"ei":2.5,"rg":102,"re":136,"rm":92,"tc":13.5},
{"d":"2019-11","co":0.7,"pe":5.7,"ng":7.8,"bi":1.65,"nu":0.72,"ws":0.6,"rs":0.16,"gd":4.03,"po":66.27,"te":6,"ei":2.49,"rg":100,"re":140,"rm":91,"tc":17},
{"d":"2020-01","co":0.65,"pe":5.6,"ng":8.2,"bi":1.7,"nu":0.95,"ws":0.93,"rs":0.17,"gd":3.98,"po":66.35,"te":6.2,"ei":2.47,"rg":98,"re":138,"rm":90,"tc":18.3},
{"d":"2020-03","co":0.4,"pe":5.2,"ng":7.8,"bi":1.5,"nu":1.0,"ws":0.7,"rs":0.18,"gd":3.99,"po":66.45,"te":6.5,"ei":2.45,"rg":96,"re":130,"rm":84,"tc":16.5},
{"d":"2020-05","co":0.3,"pe":2.7,"ng":4.6,"bi":1.35,"nu":0.75,"ws":0.5,"rs":0.19,"gd":4.01,"po":66.55,"te":12.5,"ei":2.43,"rg":93,"re":126,"rm":72,"tc":10},
{"d":"2020-07","co":0.3,"pe":4.4,"ng":3.6,"bi":1.4,"nu":0.85,"ws":0.4,"rs":0.15,"gd":4.06,"po":66.63,"te":17.3,"ei":2.42,"rg":85,"re":128,"rm":78,"tc":12},
{"d":"2020-09","co":0.35,"pe":4.6,"ng":4.0,"bi":1.55,"nu":1.05,"ws":0.5,"rs":0.14,"gd":4.15,"po":66.7,"te":14.5,"ei":2.4,"rg":84,"re":127,"rm":79,"tc":13.5},
{"d":"2020-11","co":0.55,"pe":4.1,"ng":8.0,"bi":1.7,"nu":0.8,"ws":0.65,"rs":0.16,"gd":4.35,"po":66.76,"te":8.5,"ei":2.38,"rg":83,"re":126,"rm":80,"tc":17},
{"d":"2021-01","co":0.5,"pe":3.8,"ng":9.8,"bi":1.7,"nu":0.75,"ws":0.72,"rs":0.15,"gd":4.5,"po":66.8,"te":3.5,"ei":2.36,"rg":83,"re":127,"rm":80,"tc":18},
{"d":"2021-03","co":0.4,"pe":4.3,"ng":8.4,"bi":1.5,"nu":0.85,"ws":0.55,"rs":0.14,"gd":4.6,"po":66.83,"te":6.5,"ei":2.34,"rg":92,"re":130,"rm":85,"tc":16},
{"d":"2021-05","co":0.35,"pe":4.6,"ng":5.0,"bi":1.35,"nu":0.8,"ws":0.38,"rs":0.135,"gd":4.67,"po":66.85,"te":9.5,"ei":2.32,"rg":92,"re":140,"rm":90,"tc":12.5},
{"d":"2021-07","co":0.4,"pe":4.8,"ng":3.4,"bi":1.4,"nu":0.75,"ws":0.42,"rs":0.155,"gd":4.72,"po":66.84,"te":17.8,"ei":2.31,"rg":92,"re":140,"rm":93,"tc":11.3},
{"d":"2021-09","co":0.4,"pe":5.0,"ng":4.2,"bi":1.6,"nu":0.85,"ws":0.55,"rs":0.175,"gd":4.76,"po":66.82,"te":15.5,"ei":2.29,"rg":93,"re":141,"rm":96,"tc":13},
{"d":"2021-10","co":0.4,"pe":5.1,"ng":7.2,"bi":1.7,"nu":0.9,"ws":0.75,"rs":0.155,"gd":4.78,"po":66.8,"te":8,"ei":2.28,"rg":107,"re":150,"rm":100,"tc":16}
]},
"columns":3,
"bounds":"flush",
"spacing":{"row":59,"column":109},
"concat":[
{"title":{"text":"Coal","offset":-2},"width":342,"height":117,"mark":{"type":"line","color":"#FF0000","clip":true},"encoding":{"x":{"field":"d","type":"temporal","scale":{"type":"utc","domain":[{"year":1995,"month":1,"utc":true},{"year":2021,"month":10,"utc":true}]},"axis":{"title":null,"labels":false,"values":[{"year":2003,"month":5,"utc":true},{"year":2011,"month":9,"utc":true},{"year":2020,"month":1,"utc":true}]}},"y":{"field":"co","type":"quantitative","scale":{"domain":[0,6.2],"nice":false},"axis":{"title":"Mtoe","values":[0,2,4,6]}}}},
{"title":{"text":"Petroleum","offset":-6},"width":342,"height":117,"mark":{"type":"line","color":"#FF3300","clip":true},"encoding":{"x":{"field":"d","type":"temporal","scale":{"type":"utc","domain":[{"year":1995,"month":1,"utc":true},{"year":2021,"month":10,"utc":true}]},"axis":{"title":null,"labels":false,"values":[{"year":2003,"month":5,"utc":true},{"year":2011,"month":9,"utc":true},{"year":2020,"month":1,"utc":true}]}},"y":{"field":"pe","type":"quantitative","scale":{"domain":[2,8],"nice":false},"axis":{"title":"Mtoe","values":[2,4,6,8]}}}},
{"title":{"text":"Natural - gas","offset":1},"width":342,"height":117,"mark":{"type":"line","color":"#00CC44","clip":true},"encoding":{"x":{"field":"d","type":"temporal","scale":{"type":"utc","domain":[{"year":1995,"month":1,"utc":true},{"year":2021,"month":10,"utc":true}]},"axis":{"title":null,"labels":false,"values":[{"year":2003,"month":5,"utc":true},{"year":2011,"month":9,"utc":true},{"year":2020,"month":1,"utc":true}]}},"y":{"field":"ng","type":"quantitative","scale":{"domain":[3.2,11.85],"nice":false},"axis":{"title":"Mtoe","values":[4,6,8,10]}}}},
{"title":{"text":"Bioenergy -  waste","offset":-6},"width":342,"height":117,"mark":{"type":"line","color":"#00C878","clip":true},"encoding":{"x":{"field":"d","type":"temporal","scale":{"type":"utc","domain":[{"year":1995,"month":1,"utc":true},{"year":2021,"month":10,"utc":true}]},"axis":{"title":null,"labels":false,"values":[{"year":2003,"month":5,"utc":true},{"year":2011,"month":9,"utc":true},{"year":2020,"month":1,"utc":true}]}},"y":{"field":"bi","type":"quantitative","scale":{"domain":[0,2],"nice":false},"axis":{"title":"Mtoe","values":[0,1,2]}}}},
{"title":{"text":"Electricity - nuclear","offset":1},"width":342,"height":117,"mark":{"type":"line","color":"#00BFBF","clip":true},"encoding":{"x":{"field":"d","type":"temporal","scale":{"type":"utc","domain":[{"year":1995,"month":1,"utc":true},{"year":2021,"month":10,"utc":true}]},"axis":{"title":null,"labels":false,"values":[{"year":2003,"month":5,"utc":true},{"year":2011,"month":9,"utc":true},{"year":2020,"month":1,"utc":true}]}},"y":{"field":"nu","type":"quantitative","scale":{"domain":[0.71,2.48],"nice":false},"axis":{"title":"Mtoe","values":[1,1.5,2]}}}},
{"title":{"text":"Electricity - WSH","offset":-6},"width":342,"height":117,"mark":{"type":"line","color":"#00A8E8","clip":true},"encoding":{"x":{"field":"d","type":"temporal","scale":{"type":"utc","domain":[{"year":1995,"month":1,"utc":true},{"year":2021,"month":10,"utc":true}]},"axis":{"title":null,"labels":false,"values":[{"year":2003,"month":5,"utc":true},{"year":2011,"month":9,"utc":true},{"year":2020,"month":1,"utc":true}]}},"y":{"field":"ws","type":"quantitative","scale":{"domain":[0,1],"nice":false},"axis":{"title":"Mtoe","values":[0,0.5,1]}}}},
{"title":{"text":"Renewable -  share","offset":-6},"width":342,"height":117,"mark":{"type":"line","color":"#0078E8","clip":true},"encoding":{"x":{"field":"d","type":"temporal","scale":{"type":"utc","domain":[{"year":1995,"month":1,"utc":true},{"year":2021,"month":10,"utc":true}]},"axis":{"title":null,"labels":false,"values":[{"year":2003,"month":5,"utc":true},{"year":2011,"month":9,"utc":true},{"year":2020,"month":1,"utc":true}]}},"y":{"field":"rs","type":"quantitative","scale":{"domain":[0,0.2],"nice":false},"axis":{"title":"%","values":[0,0.1,0.2]}}}},
{"title":{"text":"GDP","offset":-12},"width":342,"height":117,"resolve":{"axis":{"x":"independent","y":"independent"}},"layer":[
 {"mark":{"type":"line","color":"#0050DC","clip":true},"encoding":{"x":{"field":"d","type":"temporal","scale":{"type":"utc","domain":[{"year":1995,"month":1,"utc":true},{"year":2021,"month":10,"utc":true}]},"axis":{"title":null,"labels":false,"values":[{"year":2003,"month":5,"utc":true},{"year":2011,"month":9,"utc":true},{"year":2020,"month":1,"utc":true}]}},"y":{"field":"gd","type":"quantitative","scale":{"domain":[2,5.08],"nice":false},"axis":{"title":"USD/person","values":[2,3,4,5]}}}},
 {"mark":{"type":"text","align":"left","baseline":"bottom","dy":-1,"fontSize":12,"color":"#555555"},"encoding":{"x":{"datum":{"year":1995,"month":1,"utc":true},"type":"temporal","axis":null},"y":{"datum":5.08,"type":"quantitative","axis":null},"text":{"value":"×10⁴"}}}
]},
{"title":{"text":"Population","offset":1},"width":342,"height":117,"mark":{"type":"line","color":"#0033CC","clip":true},"encoding":{"x":{"field":"d","type":"temporal","scale":{"type":"utc","domain":[{"year":1995,"month":1,"utc":true},{"year":2021,"month":10,"utc":true}]},"axis":{"title":null,"labels":false,"values":[{"year":2003,"month":5,"utc":true},{"year":2011,"month":9,"utc":true},{"year":2020,"month":1,"utc":true}]}},"y":{"field":"po","type":"quantitative","scale":{"domain":[58.5,66.9],"nice":false},"axis":{"title":"Million","values":[60,62,64,66]}}}},
{"title":{"text":"Temperature","offset":-6},"width":342,"height":117,"mark":{"type":"line","color":"#0000CC","clip":true},"encoding":{"x":{"field":"d","type":"temporal","scale":{"type":"utc","domain":[{"year":1995,"month":1,"utc":true},{"year":2021,"month":10,"utc":true}]},"axis":{"title":null,"labels":false,"values":[{"year":2003,"month":5,"utc":true},{"year":2011,"month":9,"utc":true},{"year":2020,"month":1,"utc":true}]}},"y":{"field":"te","type":"quantitative","scale":{"domain":[0,20],"nice":false},"axis":{"title":"Celsius","values":[0,10,20]}}}},
{"title":{"text":"Energy -  intensity","offset":0},"width":342,"height":117,"mark":{"type":"line","color":"#3300D6","clip":true},"encoding":{"x":{"field":"d","type":"temporal","scale":{"type":"utc","domain":[{"year":1995,"month":1,"utc":true},{"year":2021,"month":10,"utc":true}]},"axis":{"title":null,"labels":false,"values":[{"year":2003,"month":5,"utc":true},{"year":2011,"month":9,"utc":true},{"year":2020,"month":1,"utc":true}]}},"y":{"field":"ei","type":"quantitative","scale":{"domain":[2,5.16],"nice":false},"axis":{"title":"TES/GDP","values":[2,3,4,5]}}}},
{"title":{"text":"RP - Gas","offset":-6},"width":342,"height":117,"mark":{"type":"line","color":"#7A00CC","clip":true},"encoding":{"x":{"field":"d","type":"temporal","scale":{"type":"utc","domain":[{"year":1995,"month":1,"utc":true},{"year":2021,"month":10,"utc":true}]},"axis":{"title":null,"labels":false,"values":[{"year":2003,"month":5,"utc":true},{"year":2011,"month":9,"utc":true},{"year":2020,"month":1,"utc":true}]}},"y":{"field":"rg","type":"quantitative","scale":{"domain":[50,150],"nice":false},"axis":{"title":"USD","values":[50,100,150]}}}},
{"title":{"text":"RP - Electricity","offset":-6},"width":342,"height":117,"mark":{"type":"line","color":"#CC00CC","clip":true},"encoding":{"x":{"field":"d","type":"temporal","scale":{"type":"utc","domain":[{"year":1995,"month":1,"utc":true},{"year":2021,"month":10,"utc":true}]},"axis":{"title":null,"format":"%Y-%m","values":[{"year":1995,"month":1,"utc":true},{"year":1996,"month":4,"utc":true},{"year":1997,"month":7,"utc":true},{"year":1998,"month":10,"utc":true},{"year":2000,"month":1,"utc":true},{"year":2001,"month":4,"utc":true},{"year":2002,"month":7,"utc":true},{"year":2003,"month":10,"utc":true},{"year":2005,"month":1,"utc":true},{"year":2006,"month":4,"utc":true},{"year":2007,"month":7,"utc":true},{"year":2008,"month":10,"utc":true},{"year":2010,"month":1,"utc":true},{"year":2011,"month":4,"utc":true},{"year":2012,"month":7,"utc":true},{"year":2013,"month":10,"utc":true},{"year":2015,"month":1,"utc":true},{"year":2016,"month":4,"utc":true},{"year":2017,"month":7,"utc":true},{"year":2018,"month":10,"utc":true},{"year":2020,"month":1,"utc":true},{"year":2021,"month":4,"utc":true}]}},"y":{"field":"re","type":"quantitative","scale":{"domain":[50,150],"nice":false},"axis":{"title":"USD","values":[50,100,150]}}}},
{"title":{"text":"RP- Motor fuel & oil","offset":-6},"width":342,"height":117,"mark":{"type":"line","color":"#E600CC","clip":true},"encoding":{"x":{"field":"d","type":"temporal","scale":{"type":"utc","domain":[{"year":1995,"month":1,"utc":true},{"year":2021,"month":10,"utc":true}]},"axis":{"title":null,"format":"%Y-%m","values":[{"year":1995,"month":1,"utc":true},{"year":1996,"month":4,"utc":true},{"year":1997,"month":7,"utc":true},{"year":1998,"month":10,"utc":true},{"year":2000,"month":1,"utc":true},{"year":2001,"month":4,"utc":true},{"year":2002,"month":7,"utc":true},{"year":2003,"month":10,"utc":true},{"year":2005,"month":1,"utc":true},{"year":2006,"month":4,"utc":true},{"year":2007,"month":7,"utc":true},{"year":2008,"month":10,"utc":true},{"year":2010,"month":1,"utc":true},{"year":2011,"month":4,"utc":true},{"year":2012,"month":7,"utc":true},{"year":2013,"month":10,"utc":true},{"year":2015,"month":1,"utc":true},{"year":2016,"month":4,"utc":true},{"year":2017,"month":7,"utc":true},{"year":2018,"month":10,"utc":true},{"year":2020,"month":1,"utc":true},{"year":2021,"month":4,"utc":true}]}},"y":{"field":"rm","type":"quantitative","scale":{"domain":[60,120],"nice":false},"axis":{"title":"USD","values":[60,80,100,120]}}}},
{"title":{"text":"Total EngCons","offset":-6},"width":342,"height":117,"mark":{"type":"line","color":"#E6008C","clip":true},"encoding":{"x":{"field":"d","type":"temporal","scale":{"type":"utc","domain":[{"year":1995,"month":1,"utc":true},{"year":2021,"month":10,"utc":true}]},"axis":{"title":null,"format":"%Y-%m","values":[{"year":1995,"month":1,"utc":true},{"year":1996,"month":4,"utc":true},{"year":1997,"month":7,"utc":true},{"year":1998,"month":10,"utc":true},{"year":2000,"month":1,"utc":true},{"year":2001,"month":4,"utc":true},{"year":2002,"month":7,"utc":true},{"year":2003,"month":10,"utc":true},{"year":2005,"month":1,"utc":true},{"year":2006,"month":4,"utc":true},{"year":2007,"month":7,"utc":true},{"year":2008,"month":10,"utc":true},{"year":2010,"month":1,"utc":true},{"year":2011,"month":4,"utc":true},{"year":2012,"month":7,"utc":true},{"year":2013,"month":10,"utc":true},{"year":2015,"month":1,"utc":true},{"year":2016,"month":4,"utc":true},{"year":2017,"month":7,"utc":true},{"year":2018,"month":10,"utc":true},{"year":2020,"month":1,"utc":true},{"year":2021,"month":4,"utc":true}]}},"y":{"field":"tc","type":"quantitative","scale":{"domain":[10,25],"nice":false},"axis":{"title":"Mtoe","values":[10,15,20,25]}}}}
],
"config":{
 "font":"Liberation Sans",
 "numberFormat":"~r",
 "timeFormat":"%Y-%m",
 "view":{"stroke":"#7a7a7a","strokeWidth":1},
 "line":{"strokeWidth":2.2},
 "title":{"fontSize":14,"fontWeight":"bold","color":"#000000","frame":"group"},
 "axis":{"domain":false,"grid":false,"tickColor":"#555555","tickSize":-4,"labelPadding":8,"labelFontSize":14,"labelColor":"#262626","titleFontSize":15,"titleFontWeight":"normal","titleColor":"#262626","titlePadding":4,"minExtent":0},
 "axisX":{"labelAngle":-90,"labelFontSize":13,"labelFlush":false,"labelOverlap":false}
}
}
